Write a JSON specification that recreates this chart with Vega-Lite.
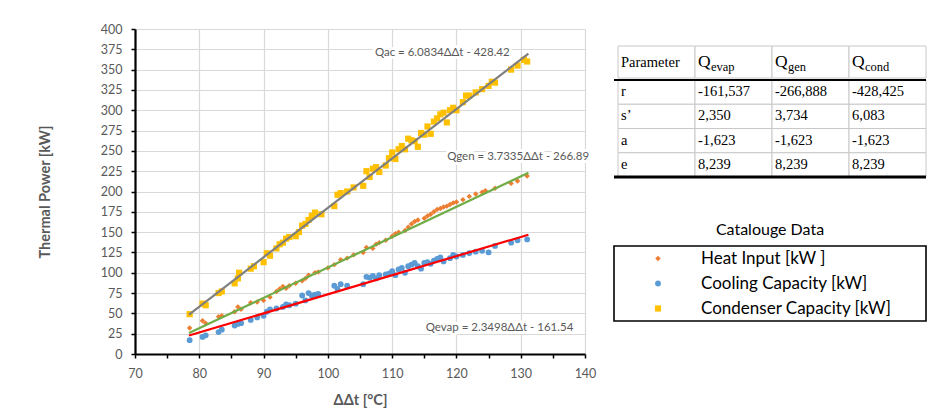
{
  "$schema": "https://vega.github.io/schema/vega-lite/v6.json",
  "padding": {"left": 37, "top": 23, "right": 5, "bottom": 5},
  "background": "white",
  "config": {"view": {"stroke": null}, "font": "Lato", "concat": {"spacing": 16}},
  "datasets": {
    "pts": [
      {"s":"cond","t":78.5,"q":49},{"s":"cond","t":80.5,"q":62},{"s":"cond","t":81,"q":60},{"s":"cond","t":83,"q":75},{"s":"cond","t":83.5,"q":77},
      {"s":"cond","t":85.5,"q":87},{"s":"cond","t":86,"q":93},{"s":"cond","t":86.2,"q":100},{"s":"cond","t":88,"q":105},{"s":"cond","t":88.5,"q":108},
      {"s":"cond","t":90,"q":113},{"s":"cond","t":90.5,"q":124},{"s":"cond","t":91,"q":121},{"s":"cond","t":92,"q":130},{"s":"cond","t":92.5,"q":135},
      {"s":"cond","t":93,"q":137},{"s":"cond","t":93.5,"q":142},{"s":"cond","t":94,"q":144},{"s":"cond","t":95,"q":145},{"s":"cond","t":95.5,"q":150},
      {"s":"cond","t":96,"q":158},{"s":"cond","t":96.5,"q":160},{"s":"cond","t":97,"q":165},{"s":"cond","t":97.5,"q":170},{"s":"cond","t":98,"q":174},
      {"s":"cond","t":99,"q":172},{"s":"cond","t":101,"q":182},{"s":"cond","t":101.5,"q":196},{"s":"cond","t":102,"q":198},{"s":"cond","t":103,"q":200},
      {"s":"cond","t":104,"q":205},{"s":"cond","t":105.5,"q":207},{"s":"cond","t":106,"q":225},{"s":"cond","t":106.5,"q":218},{"s":"cond","t":107,"q":228},
      {"s":"cond","t":107.5,"q":230},{"s":"cond","t":108,"q":224},{"s":"cond","t":109,"q":232},{"s":"cond","t":109.5,"q":241},{"s":"cond","t":110,"q":248},
      {"s":"cond","t":110.5,"q":240},{"s":"cond","t":111,"q":252},{"s":"cond","t":111.5,"q":256},{"s":"cond","t":112,"q":252},{"s":"cond","t":112.5,"q":265},
      {"s":"cond","t":113,"q":263},{"s":"cond","t":113.5,"q":262},{"s":"cond","t":114,"q":255},{"s":"cond","t":114.5,"q":272},{"s":"cond","t":115,"q":270},
      {"s":"cond","t":115.5,"q":280},{"s":"cond","t":116,"q":271},{"s":"cond","t":116.5,"q":286},{"s":"cond","t":117,"q":290},{"s":"cond","t":117.5,"q":295},
      {"s":"cond","t":118,"q":297},{"s":"cond","t":118.5,"q":285},{"s":"cond","t":119,"q":300},{"s":"cond","t":119.5,"q":303},{"s":"cond","t":120,"q":300},
      {"s":"cond","t":121,"q":310},{"s":"cond","t":121.5,"q":318},{"s":"cond","t":122,"q":318},{"s":"cond","t":123,"q":322},{"s":"cond","t":124,"q":326},
      {"s":"cond","t":125,"q":330},{"s":"cond","t":125.5,"q":335},{"s":"cond","t":126,"q":334},{"s":"cond","t":128.5,"q":350},{"s":"cond","t":129.5,"q":355},
      {"s":"cond","t":130.5,"q":362},{"s":"cond","t":131,"q":360},

      {"s":"heat","t":78.5,"q":32},{"s":"heat","t":80.5,"q":41},{"s":"heat","t":81,"q":38},{"s":"heat","t":83,"q":46},{"s":"heat","t":83.5,"q":47},
      {"s":"heat","t":85.5,"q":52},{"s":"heat","t":86,"q":58},{"s":"heat","t":86.5,"q":55},{"s":"heat","t":88,"q":63},{"s":"heat","t":89,"q":64},
      {"s":"heat","t":90,"q":66},{"s":"heat","t":91,"q":70},{"s":"heat","t":92,"q":77},{"s":"heat","t":92.5,"q":80},{"s":"heat","t":93,"q":83},
      {"s":"heat","t":93.5,"q":81},{"s":"heat","t":94,"q":84},{"s":"heat","t":95,"q":87},{"s":"heat","t":96,"q":90},{"s":"heat","t":96.5,"q":93},
      {"s":"heat","t":97,"q":97},{"s":"heat","t":98,"q":100},{"s":"heat","t":98.5,"q":101},{"s":"heat","t":100,"q":106},{"s":"heat","t":101,"q":110},
      {"s":"heat","t":102,"q":116},{"s":"heat","t":103,"q":118},{"s":"heat","t":104,"q":122},{"s":"heat","t":105.5,"q":125},{"s":"heat","t":106,"q":131},
      {"s":"heat","t":107,"q":130},{"s":"heat","t":107.5,"q":135},{"s":"heat","t":108,"q":137},{"s":"heat","t":109,"q":140},{"s":"heat","t":110,"q":145},
      {"s":"heat","t":110.5,"q":148},{"s":"heat","t":111,"q":150},{"s":"heat","t":112,"q":152},{"s":"heat","t":112.5,"q":156},{"s":"heat","t":113,"q":160},
      {"s":"heat","t":113.5,"q":163},{"s":"heat","t":114,"q":165},{"s":"heat","t":115,"q":167},{"s":"heat","t":115.5,"q":170},{"s":"heat","t":116,"q":172},
      {"s":"heat","t":116.5,"q":175},{"s":"heat","t":117,"q":178},{"s":"heat","t":117.5,"q":179},{"s":"heat","t":118,"q":181},{"s":"heat","t":118.5,"q":182},
      {"s":"heat","t":119,"q":184},{"s":"heat","t":119.5,"q":186},{"s":"heat","t":120,"q":187},{"s":"heat","t":121,"q":190},{"s":"heat","t":122,"q":194},
      {"s":"heat","t":123,"q":197},{"s":"heat","t":124,"q":199},{"s":"heat","t":124.5,"q":201},{"s":"heat","t":126,"q":204},{"s":"heat","t":128.5,"q":210},
      {"s":"heat","t":129.5,"q":213},{"s":"heat","t":131,"q":219},

      {"s":"cool","t":78.5,"q":17},{"s":"cool","t":80.5,"q":21},{"s":"cool","t":81,"q":23},{"s":"cool","t":83,"q":27},{"s":"cool","t":83.5,"q":30},
      {"s":"cool","t":85.5,"q":35},{"s":"cool","t":86,"q":37},{"s":"cool","t":86.5,"q":38},{"s":"cool","t":88,"q":42},{"s":"cool","t":89,"q":45},
      {"s":"cool","t":90,"q":47},{"s":"cool","t":90.5,"q":52},{"s":"cool","t":91,"q":55},{"s":"cool","t":92,"q":56},{"s":"cool","t":93,"q":58},
      {"s":"cool","t":93.5,"q":61},{"s":"cool","t":94,"q":60},{"s":"cool","t":95,"q":62},{"s":"cool","t":96,"q":72},{"s":"cool","t":96.5,"q":66},
      {"s":"cool","t":97,"q":75},{"s":"cool","t":97.5,"q":72},{"s":"cool","t":98,"q":73},{"s":"cool","t":98.5,"q":74},{"s":"cool","t":101,"q":84},
      {"s":"cool","t":101.5,"q":80},{"s":"cool","t":102,"q":86},{"s":"cool","t":103,"q":84},{"s":"cool","t":105.5,"q":86},{"s":"cool","t":106,"q":95},
      {"s":"cool","t":106.5,"q":94},{"s":"cool","t":107,"q":96},{"s":"cool","t":107.5,"q":93},{"s":"cool","t":108,"q":97},{"s":"cool","t":109,"q":98},
      {"s":"cool","t":109.5,"q":99},{"s":"cool","t":110,"q":102},{"s":"cool","t":110.5,"q":97},{"s":"cool","t":111,"q":104},{"s":"cool","t":111.5,"q":106},
      {"s":"cool","t":112,"q":100},{"s":"cool","t":112.5,"q":108},{"s":"cool","t":113,"q":110},{"s":"cool","t":113.5,"q":112},{"s":"cool","t":114,"q":108},
      {"s":"cool","t":114.5,"q":105},{"s":"cool","t":115,"q":112},{"s":"cool","t":115.5,"q":113},{"s":"cool","t":116,"q":111},{"s":"cool","t":116.5,"q":115},
      {"s":"cool","t":117,"q":117},{"s":"cool","t":117.5,"q":119},{"s":"cool","t":118,"q":114},{"s":"cool","t":119,"q":118},{"s":"cool","t":119.5,"q":122},
      {"s":"cool","t":120,"q":120},{"s":"cool","t":121,"q":122},{"s":"cool","t":122,"q":124},{"s":"cool","t":123,"q":126},{"s":"cool","t":124,"q":127},
      {"s":"cool","t":125,"q":125},{"s":"cool","t":126,"q":133},{"s":"cool","t":128.5,"q":137},{"s":"cool","t":129.5,"q":140},{"s":"cool","t":131,"q":141}
    ],
    "trend": [
      {"s":"cond","t":78.4,"q":48.5},{"s":"cond","t":131.2,"q":369.7},
      {"s":"heat","t":78.4,"q":25.8},{"s":"heat","t":131.2,"q":223},
      {"s":"cool","t":78.4,"q":22.7},{"s":"cool","t":131.2,"q":146.8}
    ],
    "ann": [
      {"label":"Qac = 6.0834ΔΔt - 428.42","t":117.8,"q":370.5},
      {"label":"Qgen = 3.7335ΔΔt - 266.89","t":129.6,"q":242.5},
      {"label":"Qevap = 2.3498ΔΔt - 161.54","t":126.7,"q":32}
    ],
    "hdr": [
      {"col":"Parameter","main":"Parameter","sub":""},
      {"col":"Qevap","main":"Q","sub":"evap"},
      {"col":"Qgen","main":"Q","sub":"gen"},
      {"col":"Qcond","main":"Q","sub":"cond"}
    ],
    "body": [
      {"row":"r","col":"Parameter","v":"r"},{"row":"r","col":"Qevap","v":"-161,537"},{"row":"r","col":"Qgen","v":"-266,888"},{"row":"r","col":"Qcond","v":"-428,425"},
      {"row":"s’","col":"Parameter","v":"s’"},{"row":"s’","col":"Qevap","v":"2,350"},{"row":"s’","col":"Qgen","v":"3,734"},{"row":"s’","col":"Qcond","v":"6,083"},
      {"row":"a","col":"Parameter","v":"a"},{"row":"a","col":"Qevap","v":"-1,623"},{"row":"a","col":"Qgen","v":"-1,623"},{"row":"a","col":"Qcond","v":"-1,623"},
      {"row":"e","col":"Parameter","v":"e"},{"row":"e","col":"Qevap","v":"8,239"},{"row":"e","col":"Qgen","v":"8,239"},{"row":"e","col":"Qcond","v":"8,239"}
    ],
    "leg": [
      {"s":"heat","label":"Heat Input [kW ]"},
      {"s":"cool","label":"Cooling Capacity [kW]"},
      {"s":"cond","label":"Condenser Capacity [kW]"}
    ]
  },
  "hconcat": [
    {
      "width": 450,
      "height": 325,
      "encoding": {
        "x": {"field": "t", "type": "quantitative", "title": "ΔΔt [°C]",
          "scale": {"domain": [70, 140], "nice": false, "zero": false},
          "axis": {"values": [70,75,80,85,90,95,100,105,110,115,120,125,130,135,140],
            "labelExpr": "datum.value % 10 == 0 ? datum.label : ''",
            "labelOverlap": false, "labelFlush": false,
            "gridColor": "#d9d9d9", "gridWidth": 1.2,
            "gridOpacity": {"condition": {"test": "datum.value % 10 != 0", "value": 0}, "value": 1},
            "domainColor": "#000000", "domainWidth": 2.2,
            "tickColor": "#000000", "tickSize": 4, "tickWidth": 1.5,
            "labelColor": "#595959", "labelFontSize": 12.5, "labelPadding": 9,
            "titleColor": "#595959", "titleFontSize": 14.5, "titleFontWeight": "bold", "titlePadding": 14}},
        "y": {"field": "q", "type": "quantitative", "title": "Thermal Power [kW]",
          "scale": {"domain": [0, 400], "nice": false},
          "axis": {"values": [0,25,50,75,100,125,150,175,200,225,250,275,300,325,350,375,400],
            "labelOverlap": false,
            "gridColor": "#d9d9d9", "gridWidth": 1.2,
            "domainColor": "#000000", "domainWidth": 2.2,
            "tickColor": "#000000", "tickSize": 4, "tickWidth": 1.5,
            "labelColor": "#595959", "labelFontSize": 12.5, "labelPadding": 9,
            "titleColor": "#595959", "titleFontSize": 14.5, "titleFontWeight": "bold", "titlePadding": 48}}
      },
      "layer": [
        {
          "data": {"name": "pts"},
          "mark": {"type": "point", "filled": true, "opacity": 1},
          "encoding": {
            "color": {"field": "s", "type": "nominal", "legend": null,
              "scale": {"domain": ["heat","cool","cond"], "range": ["#ED7D31","#5B9BD5","#FFC000"]}},
            "shape": {"field": "s", "type": "nominal", "legend": null,
              "scale": {"domain": ["heat","cool","cond"], "range": ["diamond","circle","square"]}},
            "size": {"field": "s", "type": "ordinal", "legend": null,
              "scale": {"domain": ["heat","cool","cond"], "range": [30, 38, 50]}}
          }
        },
        {
          "data": {"name": "trend"},
          "mark": {"type": "line", "strokeWidth": 2.2},
          "encoding": {
            "stroke": {"field": "s", "type": "nominal", "legend": null,
              "scale": {"domain": ["cond","heat","cool"], "range": ["#7f7f7f","#70AD47","#FF0000"]}}
          }
        },
        {
          "data": {"name": "ann"},
          "mark": {"type": "text", "fontSize": 11.5, "fill": "white", "stroke": "white", "strokeWidth": 6, "strokeJoin": "round", "align": "center", "baseline": "middle"},
          "encoding": {"text": {"field": "label"}}
        },
        {
          "data": {"name": "ann"},
          "mark": {"type": "text", "fontSize": 11.5, "fill": "#595959", "align": "center", "baseline": "middle"},
          "encoding": {"text": {"field": "label"}}
        }
      ]
    },
    {
      "spacing": 42,
      "vconcat": [
        {
          "spacing": 0,
          "vconcat": [
            {
              "width": 312,
              "height": 49,
              "data": {"name": "hdr"},
              "encoding": {
                "x": {"field": "col", "type": "nominal", "axis": null,
                  "scale": {"domain": ["Parameter","Qevap","Qgen","Qcond"], "range": [4, 312], "paddingInner": 0, "paddingOuter": 0}},
                "y": {"datum": "h", "type": "nominal", "axis": null,
                  "scale": {"domain": ["h"], "range": [17, 49], "paddingInner": 0, "paddingOuter": 0}}
              },
              "layer": [
                {"mark": {"type": "rect", "fill": "white", "stroke": "#c8c8c8", "strokeWidth": 1}},
                {
                  "mark": {"type": "text", "font": "Liberation Serif", "align": "left", "baseline": "alphabetic", "dx": 3, "dy": 5, "color": "#000000"},
                  "encoding": {
                    "x": {"field": "col", "type": "nominal", "bandPosition": 0},
                    "text": {"field": "main"},
                    "size": {"condition": {"test": "datum.main == 'Q'", "value": 17.5}, "value": 14.5}
                  }
                },
                {
                  "mark": {"type": "text", "font": "Liberation Serif", "fontSize": 12.5, "align": "left", "baseline": "alphabetic", "dx": 16, "dy": 9, "color": "#000000"},
                  "encoding": {
                    "x": {"field": "col", "type": "nominal", "bandPosition": 0},
                    "text": {"field": "sub"}
                  }
                }
              ]
            },
            {
              "width": 312,
              "height": 97,
              "encoding": {
                "x": {"field": "col", "type": "nominal", "axis": null,
                  "scale": {"domain": ["Parameter","Qevap","Qgen","Qcond"], "range": [4, 312], "paddingInner": 0, "paddingOuter": 0}},
                "y": {"field": "row", "type": "nominal", "axis": null,
                  "scale": {"domain": ["r","s’","a","e"], "paddingInner": 0, "paddingOuter": 0}}
              },
              "layer": [
                {"data": {"name": "body"}, "mark": {"type": "rect", "fill": "white", "stroke": "#c8c8c8", "strokeWidth": 1}},
                {
                  "data": {"name": "body"},
                  "mark": {"type": "text", "font": "Liberation Serif", "fontSize": 14.5, "align": "left", "baseline": "middle", "dx": 3, "color": "#000000"},
                  "encoding": {
                    "x": {"field": "col", "type": "nominal", "bandPosition": 0},
                    "text": {"field": "v"}
                  }
                },
                {
                  "data": {"values": [{"row": "r"}]},
                  "mark": {"type": "rule", "color": "#000000", "strokeWidth": 2},
                  "encoding": {"x": null, "y": {"field": "row", "type": "nominal", "bandPosition": 0}}
                },
                {
                  "data": {"values": [{"row": "e"}]},
                  "mark": {"type": "rule", "color": "#000000", "strokeWidth": 2.8},
                  "encoding": {"x": null, "y": {"field": "row", "type": "nominal", "bandPosition": 1}}
                }
              ]
            }
          ]
        },
        {
          "width": 312,
          "height": 75,
          "view": {"stroke": "#000000", "strokeWidth": 1.6},
          "title": {"text": "Catalouge Data", "fontSize": 16, "fontWeight": "normal", "color": "#000000", "anchor": "middle", "offset": 8, "font": "Lato"},
          "data": {"name": "leg"},
          "encoding": {
            "y": {"field": "s", "type": "nominal", "axis": null,
              "scale": {"type": "band", "domain": ["heat","cool","cond"], "paddingInner": 0, "paddingOuter": 0}}
          },
          "layer": [
            {
              "mark": {"type": "point", "filled": true, "opacity": 1},
              "encoding": {
                "x": {"datum": "m", "type": "nominal", "axis": null,
                  "scale": {"type": "point", "domain": ["m","l"], "range": [44, 87], "padding": 0}},
                "color": {"field": "s", "type": "nominal", "legend": null},
                "shape": {"field": "s", "type": "nominal", "legend": null},
                "size": {"field": "s", "type": "ordinal", "legend": null}
              }
            },
            {
              "mark": {"type": "text", "fontSize": 17, "align": "left", "baseline": "middle", "color": "#000000"},
              "encoding": {
                "x": {"datum": "l", "type": "nominal"},
                "text": {"field": "label"}
              }
            }
          ]
        }
      ]
    }
  ]
}
